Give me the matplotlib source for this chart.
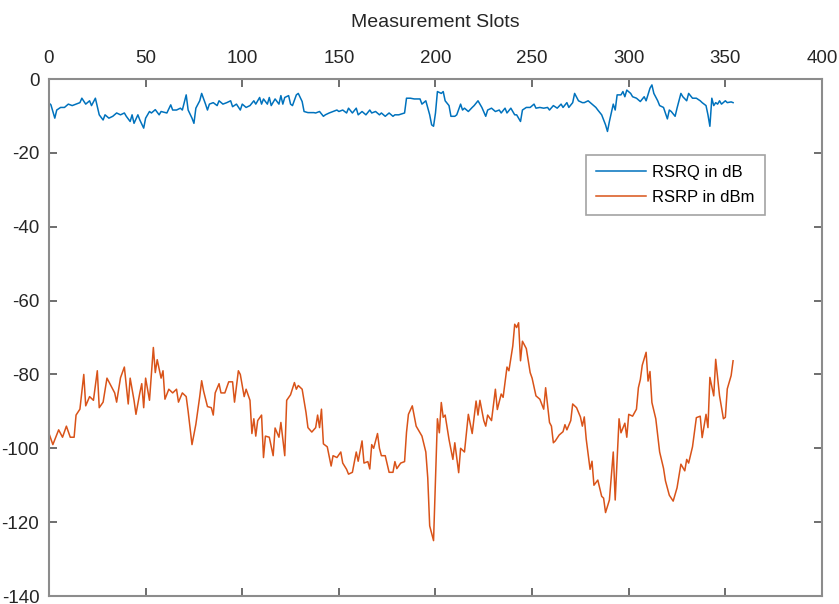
import matplotlib
matplotlib.use('Agg')
import matplotlib.pyplot as plt
import numpy as np

# RSRQ in dB (slot, value)
rsrq_slots = [0, 1, 3, 4, 6, 8, 10, 12, 14, 16, 17, 19, 21, 22, 24, 26, 28, 29, 31, 33,
              35, 37, 39, 40, 42, 43, 44, 46, 47, 49, 50, 52, 53, 55, 57, 58, 61, 63, 64, 66,
              68, 69, 71, 72, 74, 75, 76, 78, 79, 81, 82, 83, 85, 87, 88, 90, 92, 94, 95, 97,
              99, 100, 102, 104, 106, 107, 109, 110, 111, 113, 114, 115, 117, 119, 120, 121, 122, 124, 125, 126,
              128, 129, 131, 132, 134, 137, 138, 140, 142, 143, 145, 147, 149, 150, 152, 154, 155, 157, 159, 160,
              162, 164, 166, 167, 169, 171, 172, 174, 176, 178, 179, 181, 184, 185, 187, 189, 192, 193, 195, 197,
              198, 199, 200, 201, 203, 204, 205, 207, 208, 210, 211, 213, 214, 215, 217, 219, 220, 222, 224, 226,
              227, 229, 231, 233, 234, 236, 237, 239, 241, 242, 244, 245, 247, 249, 251, 252, 254, 256, 258, 259,
              261, 263, 265, 266, 268, 269, 271, 272, 274, 276, 277, 279, 281, 283, 284, 286, 288, 289, 290, 292,
              293, 294, 296, 297, 298, 299, 301, 302, 304, 306, 308, 309, 311, 312, 313, 315, 316, 318, 320, 321,
              322, 324, 325, 327, 328, 330, 331, 333, 335, 337, 338, 340, 341, 342, 343, 344, 345, 346, 347, 348,
              350, 351, 353, 354]
rsrq_db = [-6.5, -7, -10.6, -8.4, -7.7, -7.7, -6.8, -7.2, -6.8, -6.4, -5.2, -6.8, -5.9, -7.2, -5.2, -9.7, -11.1, -9.7, -10.6, -10.1,
           -9.2, -9.7, -9.2, -10.1, -11.5, -9.7, -12, -9.7, -11.1, -13.3, -10.6, -8.8, -9.2, -8.3, -9.7, -8.8, -9.2, -7, -8.4, -8.4,
           -7.9, -8.4, -4.3, -8.4, -10.6, -12, -7.9, -5.9, -3.9, -6.8, -8.4, -6.8, -6.4, -7.2, -5.9, -6.8, -6.4, -5.9, -7.5, -6.8,
           -8.4, -6.8, -7.7, -7.2, -5.9, -6.8, -5, -6.8, -5.4, -6.8, -5, -7.2, -5.4, -6.8, -4.5, -6.8, -5, -4.5, -6.8, -7.2,
           -4.3, -3.9, -6.1, -8.8, -9.1, -9.1, -9.2, -8.8, -10.1, -9.7, -9.2, -8.8, -8.4, -8.8, -8.4, -9.2, -7.9, -9.2, -7.9, -9.7,
           -8.8, -9.7, -8.4, -9.2, -8.8, -9.7, -9.2, -10.1, -9.2, -10.1, -9.7, -9.7, -9.2, -5.2, -5.2, -5.4, -5.4, -6.8, -5.9, -9.7,
           -12.4, -12.8, -9.2, -3.4, -3.9, -3.4, -5.9, -7.2, -10.1, -10.1, -9.7, -6.8, -8.4, -7.9, -8.8, -7.7, -7.2, -5.9, -7.7, -10.1,
           -8.4, -7.9, -8.8, -8.4, -9.2, -7.9, -9.2, -7.9, -9.7, -9.7, -11.5, -8.4, -7.7, -7.7, -6.8, -7.9, -7.7, -7.9, -7.7, -8.4,
           -7.2, -7.9, -6.8, -7.7, -6.4, -7.7, -6.4, -3.9, -5.9, -6.4, -6.4, -5.9, -6.8, -7.7, -8.4, -9.7, -12.4, -14.2, -11.5, -6.8,
           -8.4, -4.3, -4.3, -3.4, -4.8, -3, -3.9, -4.8, -5.2, -6.1, -4.8, -5.9, -2.5, -1.6, -3.9, -5.9, -7.2, -7.7, -10.8, -8.4,
           -8.8, -10.1, -7.9, -3.9, -4.8, -5.9, -3.9, -5.2, -5.2, -5.9, -6.4, -7.2, -9.7, -12.8, -5.2, -7.2, -6.4, -6.8, -5.9, -6.8,
           -5.9, -6.4, -6.2, -6.4]

# RSRP in dBm (slot, value)
rsrp_slots = [0, 2, 5, 7, 9, 11, 13, 14, 16, 18, 19, 21, 23, 25, 26, 28, 30, 32, 34, 35,
              37, 39, 41, 42, 44, 45, 47, 48, 49, 50, 52, 54, 55, 56, 58, 59, 60, 62, 64, 66,
              67, 69, 71, 72, 73, 74, 76, 78, 79, 80, 82, 84, 85, 86, 88, 89, 91, 93, 95, 96,
              98, 99, 101, 102, 104, 105, 106, 107, 108, 110, 111, 112, 114, 116, 117, 119, 120, 122, 123, 125,
              127, 128, 129, 131, 133, 134, 136, 138, 139, 140, 141, 142, 144, 146, 147, 149, 151, 152, 154, 155,
              157, 159, 160, 162, 163, 165, 166, 167, 168, 170, 171, 172, 174, 176, 178, 179, 180, 182, 184, 185,
              186, 188, 190, 193, 195, 196, 197, 199, 201, 202, 203, 204, 205, 207, 209, 210, 212, 213, 215, 217,
              219, 221, 222, 223, 225, 226, 227, 229, 231, 232, 234, 235, 237, 238, 240, 241, 242, 243, 244, 245,
              247, 249, 250, 252, 254, 256, 257, 259, 260, 261, 262, 264, 266, 267, 268, 270, 271, 273, 275, 276,
              277, 278, 280, 281, 282, 284, 286, 287, 288, 290, 292, 293, 295, 296, 298, 299, 300, 302, 304, 305,
              306, 307, 309, 310, 311, 312, 314, 316, 318, 319, 321, 323, 325, 327, 329, 330, 331, 333, 335, 337,
              338, 340, 341, 342, 344, 345, 347, 349, 350, 351, 353, 354]
rsrp_dbm = [-96, -99, -95, -97, -94, -97, -97, -91, -89.4, -80, -88.5, -86, -87, -79, -89, -87.5, -81, -83, -85, -87.5,
            -80.9, -78, -88, -81, -87, -90.8, -85, -82.5, -89, -81, -87, -72.7, -79.5, -76, -81, -79, -86.7, -84, -85, -84,
            -87.5, -85, -86, -90, -94.5, -99, -93.5, -86, -81.7, -84.5, -88.7, -89, -91, -85, -82.5, -85, -85, -82, -82, -87.5,
            -79, -80, -86, -84, -87, -96, -92, -96.7, -92.5, -91, -102.5, -96.7, -97, -102, -94.5, -97, -93, -102, -87, -85.5,
            -82.2, -84, -83, -84, -90.3, -94.4, -95.6, -94.4, -91, -94.4, -89.4, -98.8, -99.6, -104.8, -102, -102.5, -101, -104, -105.7, -107,
            -106.5, -101, -103.5, -98, -104, -103.6, -105.6, -99, -100, -96, -100, -102, -102, -106.5, -106.5, -103.6, -105.5, -104, -103.6, -95.7,
            -90.8, -88.5, -94, -96.7, -101, -108, -121, -125, -92, -95.8, -87.6, -91.6, -91, -97.6, -103, -98.5, -106.6, -100, -101, -90.8,
            -96, -87.2, -91, -87, -92.5, -94, -91, -92.5, -84, -89.5, -85.3, -86.2, -78, -79, -72.3, -66.4, -67.3, -66, -76.3, -71,
            -73, -79.5, -81, -85.8, -86.7, -89.4, -83.6, -93, -94, -98.5, -98, -96.4, -95.5, -93.6, -95, -92.5, -88, -89, -91.5, -94,
            -91.5, -97.5, -105.7, -103.5, -110, -108.6, -113, -113.5, -117.4, -114, -101, -114, -92, -95.8, -93.2, -97, -90.8, -91.3, -89.4, -83.6,
            -81.4, -77.5, -74, -81.8, -79.2, -87.6, -92, -101, -105.4, -108.8, -112.7, -114.3, -110.7, -104.3, -106.1, -103, -104, -99.6, -91.7, -91.3,
            -97.1, -90.8, -94.4, -80.8, -85.8, -75.9, -85.8, -92, -91.6, -83.9, -80.3, -76.3]

x_ticks = [0, 50, 100, 150, 200, 250, 300, 350, 400]
y_ticks = [0, -20, -40, -60, -80, -100, -120, -140]

plt.rcParams['font.family'] = ['Liberation Sans', 'DejaVu Sans']
plt.rcParams['axes.unicode_minus'] = False

fig = plt.figure(figsize=(8.39, 6.04), dpi=100)
ax = fig.add_axes([0.0584, 0.0132, 0.9213, 0.856])

ax.plot(rsrq_slots, rsrq_db, color='#0072BD', linewidth=1.1, label='RSRQ in dB')
ax.plot(rsrp_slots, rsrp_dbm, color='#D95319', linewidth=1.1, label='RSRP in dBm')

ax.set_xlim(0, 400)
ax.set_ylim(-140, 0)
ax.set_xticks(x_ticks)
ax.set_yticks(y_ticks)
ax.xaxis.set_ticks_position('both')
ax.yaxis.set_ticks_position('both')
ax.xaxis.set_label_position('top')
ax.tick_params(axis='x', labeltop=True, labelbottom=False, pad=9)
ax.tick_params(axis='y', pad=7)
ax.tick_params(direction='in', length=6, width=1.2, color='#555555',
               labelsize=13.5, labelcolor='#262626')
ax.set_xlabel('Measurement Slots', fontsize=14, color='#262626', labelpad=16)

for sp in ax.spines.values():
    sp.set_color('#8c8c8c')
    sp.set_linewidth(1.5)

leg = ax.legend(loc='upper right', bbox_to_anchor=(0.926, 0.853), fontsize=12,
                handlelength=3.0, frameon=True, fancybox=False, borderpad=0.6,
                labelspacing=0.6, handletextpad=0.4, borderaxespad=0)
leg.get_frame().set_edgecolor('#8c8c8c')
leg.get_frame().set_linewidth(1.2)

fig.savefig('out.png', dpi=100)
